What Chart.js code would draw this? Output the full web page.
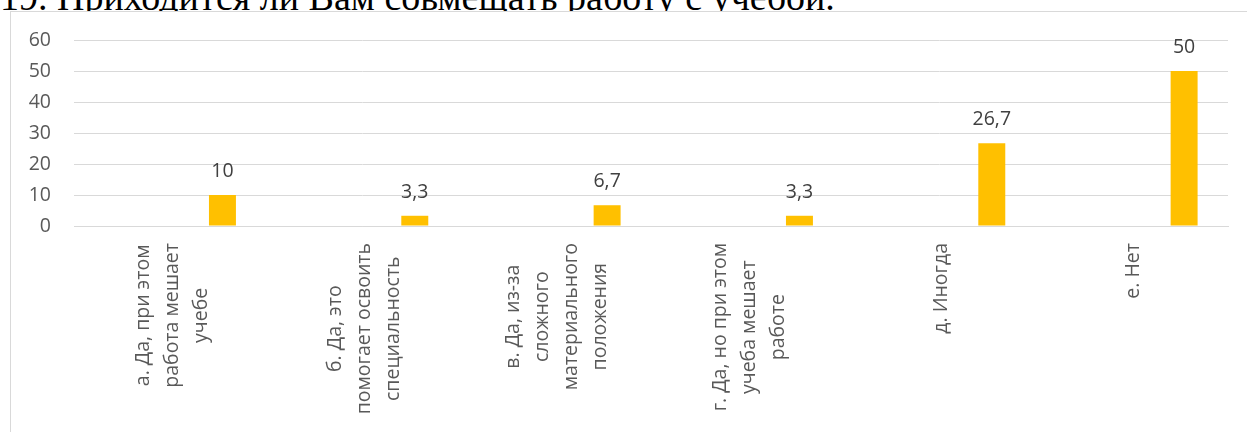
<!DOCTYPE html>
<html>
<head>
<meta charset="utf-8">
<script src="https://cdn.jsdelivr.net/npm/chart.js@4/dist/chart.umd.min.js"></script>
<style>
  html, body { margin: 0; padding: 0; background: #fff; overflow: hidden; }
  body { width: 1247px; height: 432px; position: relative; }
  #title {
    position: absolute; left: 0; top: -22px; margin: 0;
    font-family: "Liberation Serif", serif; font-size: 38px; line-height: 38px; font-weight: normal;
    color: #000; white-space: nowrap;
  }
  #box {
    position: absolute; left: 10px; top: 11px; width: 1300px; height: 500px;
    border-left: 1px solid #d9d9d9; border-top: 1px solid #d9d9d9; background: #fff;
  }
  #wrap { position: absolute; left: 0; top: 0; width: 1247px; height: 432px; }
</style>
</head>
<body>
<div id="title">19. Приходится ли Вам совмещать работу с учебой.</div>
<div id="box"></div>
<div id="wrap"><canvas id="myChart"></canvas></div>
<script>
const categories = [
  ['а. Да, при этом', 'работа мешает', 'учебе'],
  ['б. Да, это', 'помогает освоить', 'специальность'],
  ['в. Да, из-за', 'сложного', 'материального', 'положения'],
  ['г. Да, но при этом', 'учеба мешает', 'работе'],
  ['д. Иногда'],
  ['е. Нет']
]
const values = [10, 3.3, 6.7, 3.3, 26.7, 50]
const emptySeries = [null, null, null, null, null, null]
const yTicks = [0, 10, 20, 30, 40, 50, 60]

const FONT = '"Open Sans", "DejaVu Sans", sans-serif'
const fmt = v => String(v).replace('.', ',')

// подписи значений над столбцами
const valueLabels = {
  id: 'valueLabels',
  afterDatasetsDraw(chart) {
    const ctx = chart.ctx
    const meta = chart.getDatasetMeta(2)
    ctx.save()
    ctx.font = '19.5px ' + FONT
    ctx.fillStyle = '#404040'
    ctx.textAlign = 'center'
    ctx.textBaseline = 'bottom'
    meta.data.forEach((bar, i) => {
      ctx.fillText(fmt(values[i]), bar.x, bar.y - 14)
    })
    ctx.restore()
  }
}

// повернутые подписи категорий, строки по центру
const xLabels = {
  id: 'xLabels',
  afterDraw(chart) {
    const ctx = chart.ctx
    const xs = chart.scales.x
    const top = xs.top + 17
    const lh = 29
    ctx.save()
    ctx.font = '19.5px ' + FONT
    ctx.fillStyle = '#595959'
    ctx.textAlign = 'center'
    ctx.textBaseline = 'middle'
    categories.forEach((lines, i) => {
      const cx = xs.getPixelForValue(i) + 2
      const maxW = Math.max(...lines.map(l => ctx.measureText(l).width))
      ctx.save()
      ctx.translate(cx, top)
      ctx.rotate(-Math.PI / 2)
      lines.forEach((l, j) => {
        ctx.fillText(l, -maxW / 2, (j - (lines.length - 1) / 2) * lh)
      })
      ctx.restore()
    })
    ctx.restore()
  }
}

new Chart('myChart', {
  type: 'bar',
  data: {
    labels: categories.map(c => c.join(' ')),
    datasets: [
      { data: emptySeries, backgroundColor: '#5b9bd5' },
      { data: emptySeries, backgroundColor: '#ed7d31' },
      { data: values, backgroundColor: '#ffc000' }
    ]
  },
  options: {
    responsive: true,
    maintainAspectRatio: false,
    animation: false,
    categoryPercentage: 0.8155,
    barPercentage: 0.516,
    layout: { padding: { left: 0, right: 19, top: 40, bottom: 0 } },
    plugins: {
      legend: { display: false },
      tooltip: { enabled: false }
    },
    scales: {
      x: {
        grid: { display: false },
        border: { display: true, color: '#d9d9d9', width: 1 },
        ticks: { display: false },
        afterFit: s => { s.height = 206 }
      },
      y: {
        min: 0,
        max: 60,
        afterBuildTicks: s => { s.ticks = yTicks.map(v => ({ value: v })) },
        grid: { color: '#d9d9d9', drawTicks: false },
        border: { display: false },
        ticks: {
          padding: 23,
          color: '#595959',
          font: { family: FONT, size: 19.5 }
        },
        afterFit: s => { s.width = 74 }
      }
    }
  },
  plugins: [valueLabels, xLabels]
})
</script>
</body>
</html>
